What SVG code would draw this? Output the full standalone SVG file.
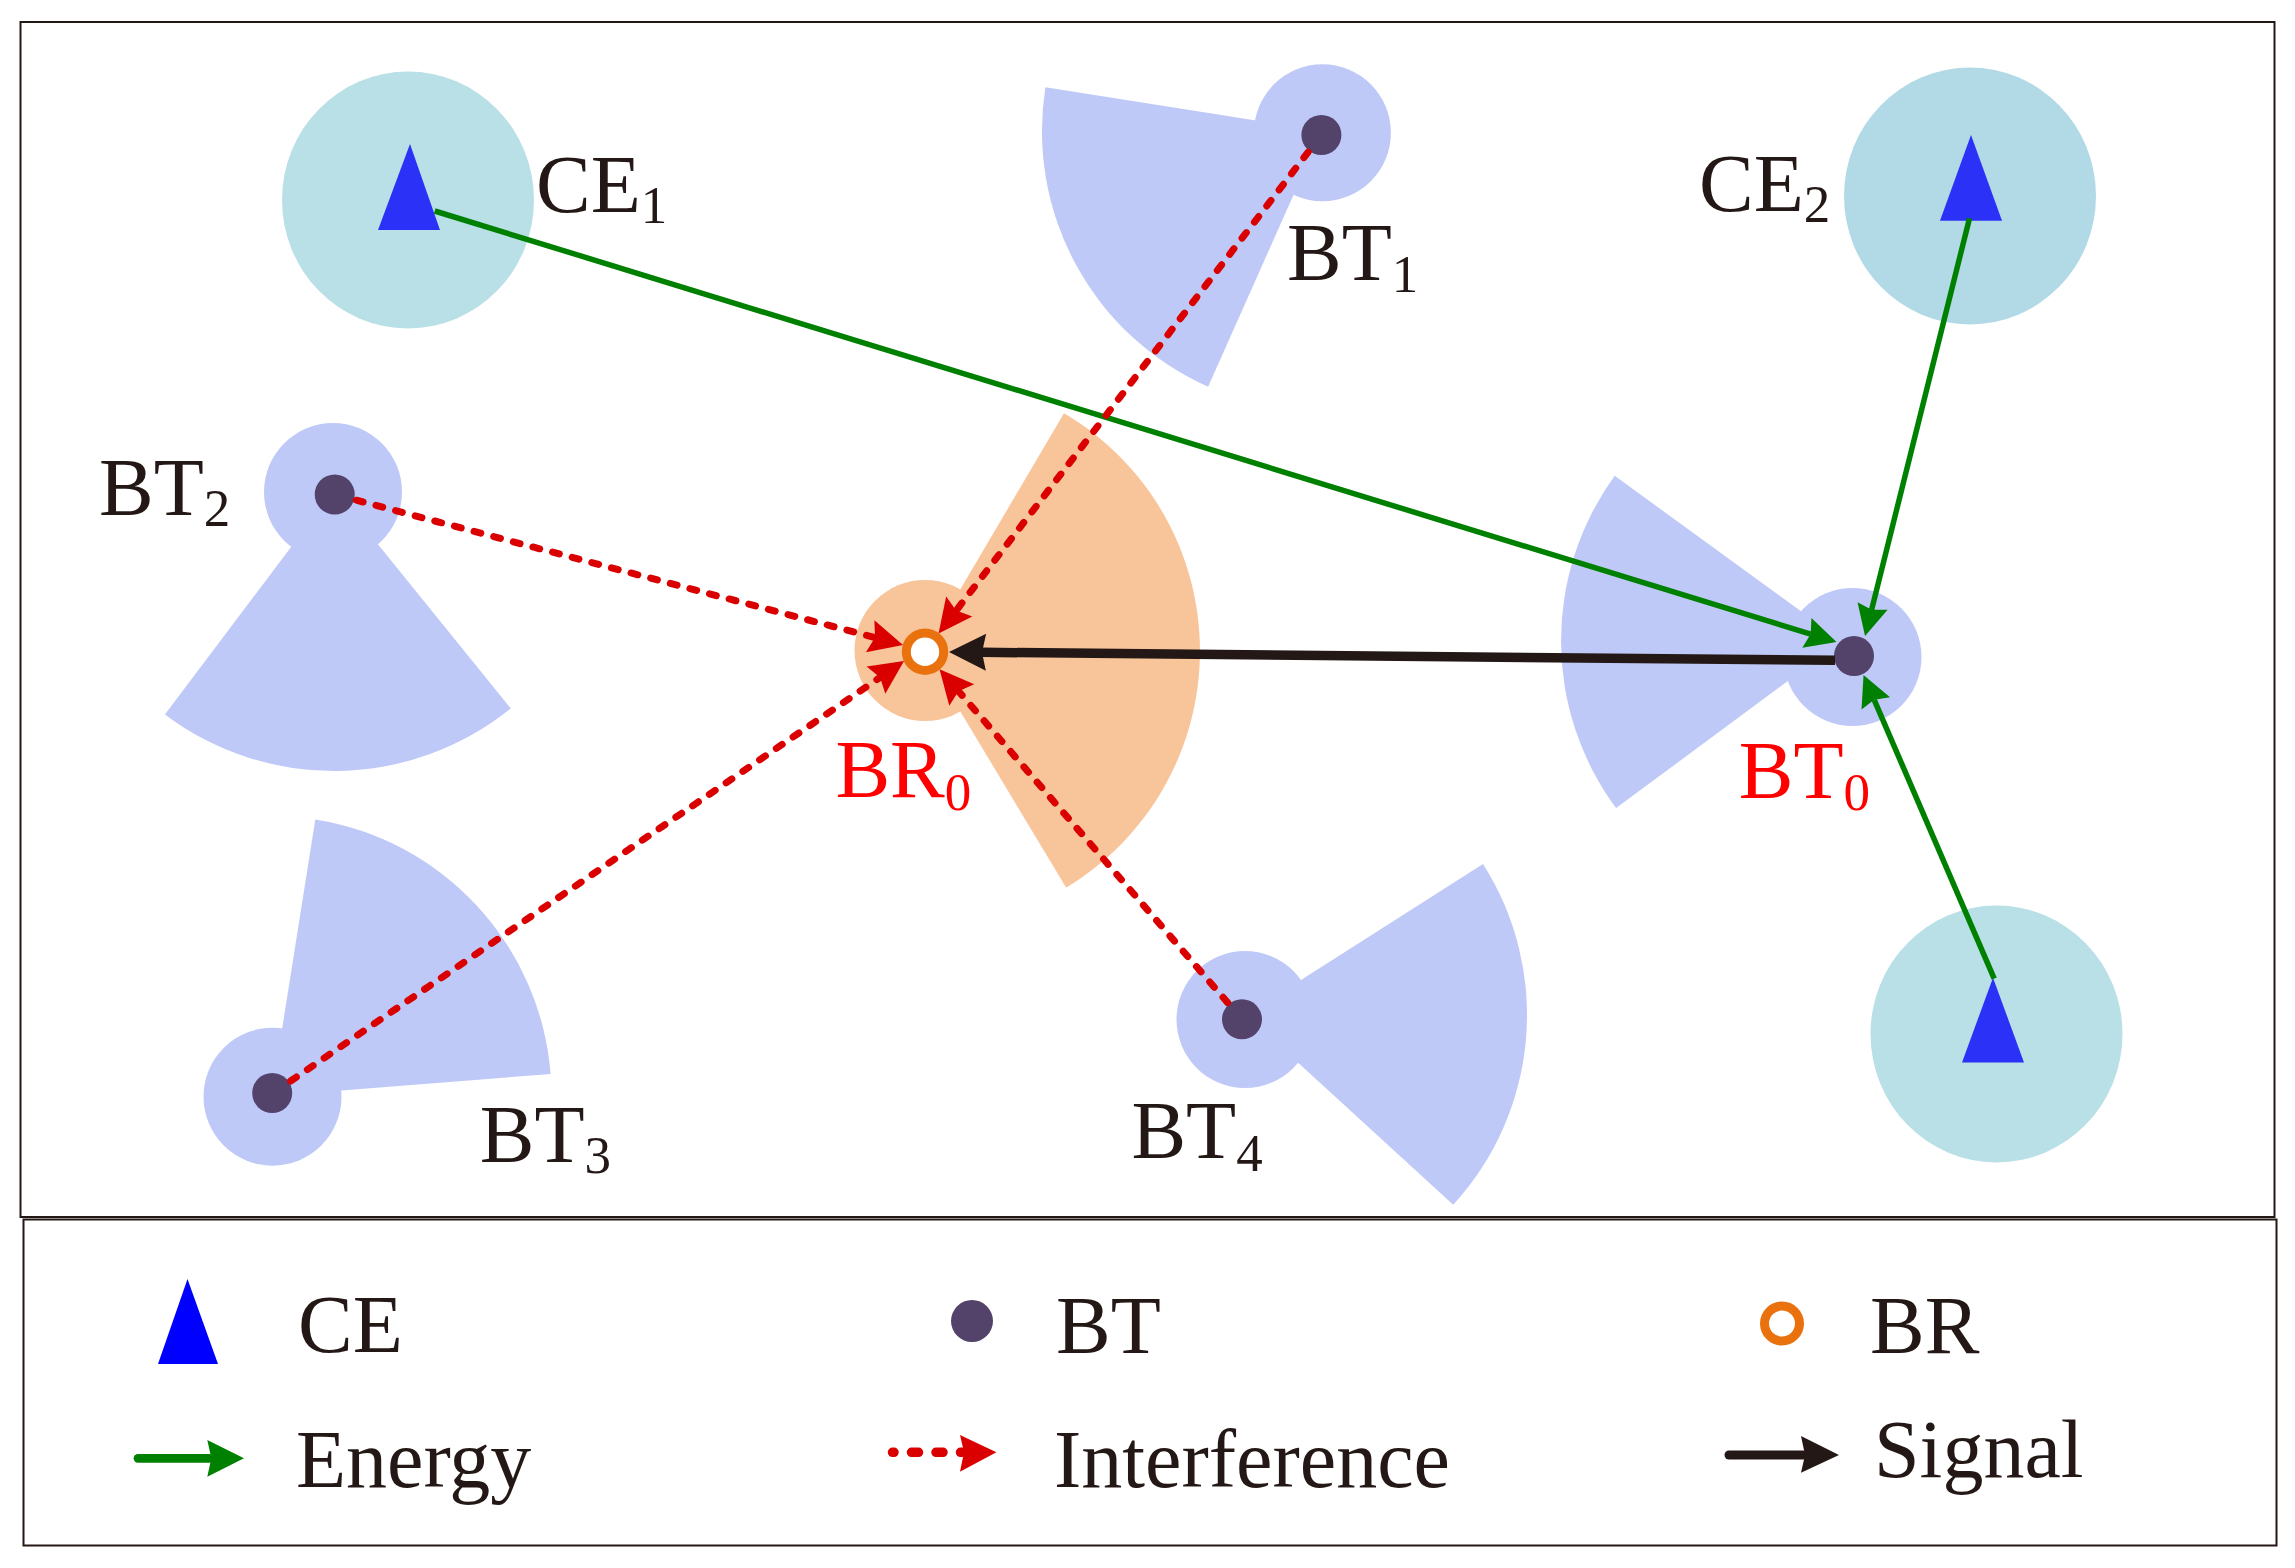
<svg xmlns="http://www.w3.org/2000/svg" width="2295" height="1568" viewBox="0 0 2295 1568">
<style>
  .frame { fill: none; stroke: #231815; stroke-width: 2; }
  .ceHalo { fill: #b9dfe7; }
  .ceTri { fill: #2b31f6; }
  .btArea { fill: #bfc9f7; }
  .btDot { fill: #53426a; }
  .brArea { fill: #f8c49a; }
  .brRing { fill: #ffffff; stroke: #e9720f; stroke-width: 9; }
  .energy { fill: none; stroke: #008000; stroke-width: 5.5; }
  .interf { fill: none; stroke: #da0000; stroke-width: 7; stroke-linecap: round; stroke-dasharray: 7 13.3; }
  .signal { fill: none; stroke: #231815; stroke-width: 9.5; }
  .lbl { font-family: 'Liberation Serif', 'Times New Roman', serif; font-size: 82px; fill: #231815; }
  .red { fill: #ff0000; }
  .sub { font-size: 53px; }
</style>
<defs>
  <marker id="arrG" markerUnits="userSpaceOnUse" viewBox="-6 -18 36 36" markerWidth="36" markerHeight="36" refX="0" refY="0" orient="auto">
    <path d="M27,0 L-4,-15.5 L0,0 L-4,15.5 Z" fill="#008000"/>
  </marker>
  <marker id="arrR" markerUnits="userSpaceOnUse" viewBox="-7 -19 40 38" markerWidth="40" markerHeight="38" refX="0" refY="0" orient="auto">
    <path d="M29,0 L-5,-16.5 L0,0 L-5,16.5 Z" fill="#da0000"/>
  </marker>
  <marker id="arrK" markerUnits="userSpaceOnUse" viewBox="-6 -20 42 40" markerWidth="42" markerHeight="40" refX="0" refY="0" orient="auto">
    <path d="M33,0 L-4,-18.5 L0,0 L-4,18.5 Z" fill="#231815"/>
  </marker>
</defs>
<rect width="2295" height="1568" fill="#ffffff"/>
<rect class="frame" x="20.5" y="22" width="2254" height="1195"/>
<rect class="frame" x="23.5" y="1219.5" width="2253" height="326"/>

<g id="ce1">
  <ellipse class="ceHalo" cx="408" cy="200" rx="126" ry="128.5"/>
  <polygon class="ceTri" points="410,144 378,230 440,230"/>
  <text class="lbl" x="536" y="212">CE<tspan class="sub" dy="11">1</tspan></text>
</g>
<g id="ce2">
  <ellipse class="ceHalo" cx="1970" cy="196" rx="126" ry="128.5" style="fill:#b1dae6"/>
  <polygon class="ceTri" points="1971,135 1940,220.7 2002,220.7"/>
  <text class="lbl" x="1699" y="211">CE<tspan class="sub" dy="11">2</tspan></text>
</g>
<g id="ce3">
  <ellipse class="ceHalo" cx="1996.5" cy="1034" rx="126" ry="128.5"/>
  <polygon class="ceTri" points="1993,977.7 1962,1062.5 2024,1062.5"/>
</g>
<g id="bt1">
  <path class="btArea" d="M1322,131 L1208.1,386.8 A280,280 0 0 1 1045.4,87.2 Z"/>
  <circle class="btArea" cx="1322.4" cy="132.8" r="68.5"/>
  <circle class="btDot" cx="1321.4" cy="135" r="20"/>
  <text class="lbl" x="1287" y="280">BT<tspan class="sub" dy="12">1</tspan></text>
</g>
<g id="bt2">
  <path class="btArea" d="M334,490 L510.8,708.4 A281,281 0 0 1 164.9,714.4 Z"/>
  <circle class="btArea" cx="333" cy="492" r="69"/>
  <circle class="btDot" cx="334.7" cy="494.5" r="20"/>
  <text class="lbl" x="99" y="515">BT<tspan class="sub" dy="11">2</tspan></text>
</g>
<g id="bt3">
  <path class="btArea" d="M271.5,1096 L315.3,819.4 A280,280 0 0 1 550.6,1074 Z"/>
  <circle class="btArea" cx="272.5" cy="1096.7" r="69"/>
  <circle class="btDot" cx="272.2" cy="1093" r="20"/>
  <text class="lbl" x="479.7" y="1161.7">BT<tspan class="sub" dy="11.6">3</tspan></text>
</g>
<g id="bt4">
  <path class="btArea" d="M1246,1015 L1483,864 A281,281 0 0 1 1453.2,1204.8 Z"/>
  <circle class="btArea" cx="1245" cy="1019.5" r="68.5"/>
  <circle class="btDot" cx="1242" cy="1019.3" r="20"/>
  <text class="lbl" x="1131.4" y="1158.3">BT<tspan class="sub" dy="12.4">4</tspan></text>
</g>
<g id="bt0">
  <path class="btArea" d="M1842,641 L1616.1,808.1 A281,281 0 0 1 1614.7,475.8 Z"/>
  <circle class="btArea" cx="1852.5" cy="657" r="69"/>
  <circle class="btDot" cx="1854" cy="656" r="20"/>
  <text class="lbl red" x="1738.7" y="797.8">BT<tspan class="sub" dy="12.5">0</tspan></text>
</g>
<g id="br0">
  <path class="brArea" d="M924,651 L1064,413.2 A276,276 0 0 1 1066.1,887.6 Z"/>
  <circle class="brArea" cx="925" cy="650.5" r="70.5"/>
  <circle class="brRing" cx="925" cy="651.7" r="18.7"/>
  <text class="lbl red" x="835.4" y="796.7">BR<tspan class="sub" dy="13.3">0</tspan></text>
</g>

<g id="connectors">
  <line class="energy" x1="434.7" y1="211" x2="1810.7" y2="634.1" marker-end="url(#arrG)"/>
  <line class="energy" x1="1969.5" y1="218.3" x2="1871.6" y2="609.8" marker-end="url(#arrG)"/>
  <line class="energy" x1="1994.2" y1="978.6" x2="1874.2" y2="699.8" marker-end="url(#arrG)"/>
  <line class="interf" x1="1308.1" y1="152.1" x2="956.2" y2="610.5" marker-end="url(#arrR)"/>
  <line class="interf" x1="356.3" y1="500.2" x2="875" y2="637.6" marker-end="url(#arrR)"/>
  <line class="interf" x1="290.6" y1="1081" x2="880.1" y2="677.4" marker-end="url(#arrR)"/>
  <line class="interf" x1="1227.6" y1="1002.6" x2="958.5" y2="691.2" marker-end="url(#arrR)"/>
  <line class="signal" x1="1835" y1="660.3" x2="982" y2="652.3" marker-end="url(#arrK)"/>
</g>

<g id="legend">
  <polygon points="187.5,1279 158,1364 218,1364" fill="#0000ff"/>
  <text class="lbl" x="298" y="1352.3">CE</text>
  <circle class="btDot" cx="972" cy="1321" r="21"/>
  <text class="lbl" x="1056" y="1353">BT</text>
  <circle class="brRing" cx="1782" cy="1323.5" r="17.5"/>
  <text class="lbl" x="1870" y="1353">BR</text>
  <line x1="138" y1="1458.3" x2="209" y2="1458.3" stroke="#008000" stroke-width="8.7" stroke-linecap="round"/>
  <path d="M244,1458.3 L207.3,1440 L211.3,1458.3 L207.3,1476.7 Z" fill="#008000"/>
  <text class="lbl" x="296" y="1486.7">Energy</text>
  <line x1="892.5" y1="1452.3" x2="962" y2="1452.3" stroke="#da0000" stroke-width="9.5" stroke-linecap="round" stroke-dasharray="7 17.5" stroke-dashoffset="5.5"/>
  <path d="M996.4,1452.3 L960,1435 L964,1452.3 L960,1471.7 Z" fill="#da0000"/>
  <text class="lbl" x="1054" y="1486.7">Interference</text>
  <line x1="1729" y1="1455" x2="1803" y2="1455" stroke="#231815" stroke-width="9" stroke-linecap="round"/>
  <path d="M1839,1455 L1801,1436 L1805,1455 L1801,1472.7 Z" fill="#231815"/>
  <text class="lbl" x="1874" y="1476.7">Signal</text>
</g>
</svg>
